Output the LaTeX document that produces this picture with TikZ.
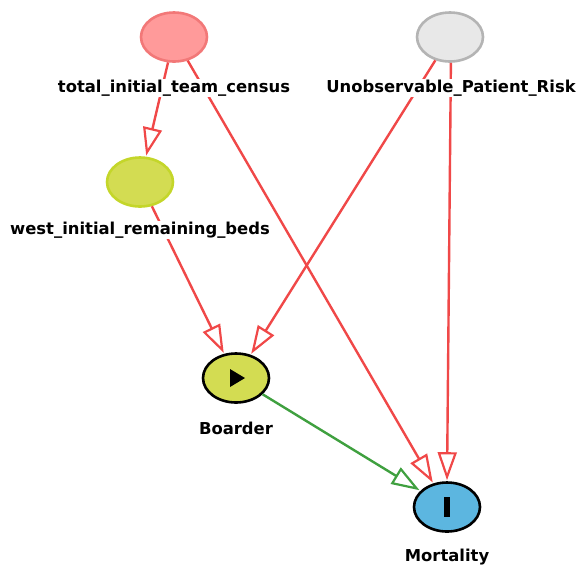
\documentclass[tikz,border=0pt]{standalone}
\usepackage{fontspec}
\setmainfont{DejaVu Sans}
\usetikzlibrary{arrows.meta,shapes.geometric}
\definecolor{redline}{HTML}{F04848}
\definecolor{greenline}{HTML}{3FA03F}
\definecolor{pinkfill}{HTML}{FF9A9A}
\definecolor{pinkdraw}{HTML}{F27878}
\definecolor{greyfill}{HTML}{E8E8E8}
\definecolor{greydraw}{HTML}{B4B4B4}
\definecolor{limefill}{HTML}{D3DC52}
\definecolor{limedraw}{HTML}{C4D62A}
\definecolor{bluefill}{HTML}{5CB6E0}
\tikzset{
  var/.style={ellipse, minimum width=66pt, minimum height=49pt, line width=2.6pt, inner sep=0pt},
  lbl/.style={fill=white, inner sep=1pt, font=\bfseries\fontsize{16.4}{18}\selectfont},
  edge/.style={line width=2.4pt, -{Triangle[open, length=28pt, width=19pt, line width=2.2pt]}, shorten >=1pt},
}
\begin{document}
\begin{tikzpicture}[x=1pt,y=-1pt]
\useasboundingbox (0,0) rectangle (577,566);
\node[var, fill=pinkfill, draw=pinkdraw] (census) at (174,37) {};
\node[var, fill=greyfill, draw=greydraw] (risk) at (450,37) {};
\node[var, fill=limefill, draw=limedraw] (west) at (140,182) {};
\node[var, fill=limefill, draw=black] (boarder) at (236,378) {};
\node[var, fill=bluefill, draw=black] (mort) at (447,507) {};
% edges
\draw[edge, redline] (census) -- (west);
\draw[edge, redline] (census) -- (mort);
\draw[edge, redline] (west) -- (boarder);
\draw[edge, redline] (risk) -- (boarder);
\draw[edge, redline] (risk.-88) -- (mort.90);
\draw[edge, greenline] (boarder) -- (mort);
% labels
\node[lbl] (censusl) at (174,88) {total\_initial\_team\_census};
\node[lbl] (riskl) at (451,88) {Unobservable\_Patient\_Risk};
\node[lbl] (westl) at (140,230) {west\_initial\_remaining\_beds};
\node[lbl] (boarderl) at (236,428) {Boarder};
\node[lbl] (mortl) at (447,557) {Mortality};
% glyphs
\fill[black] (boarder.center) ++(-6,-9) -- ++(15,9) -- ++(-15,9) -- cycle;
\fill[black] (mort.center) ++(-3,-10) rectangle ++(6,20);
\end{tikzpicture}
\end{document}
